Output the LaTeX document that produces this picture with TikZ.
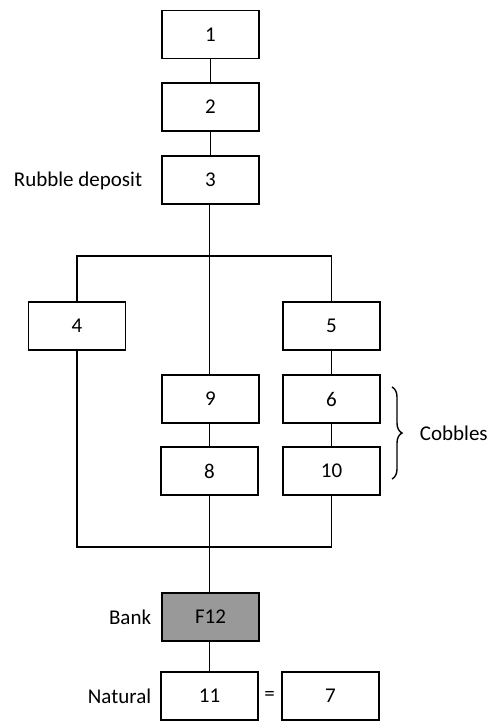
\documentclass[tikz,border=0pt]{standalone}
\usepackage{fontspec}
\setmainfont{Carlito}
\usetikzlibrary{decorations.pathreplacing}
\begin{document}
\begin{tikzpicture}[x=1pt,y=-1pt,line width=1.8pt,
  box/.style={draw=black,minimum width=97pt,minimum height=48pt,inner sep=0pt,font=\fontsize{21}{25}\selectfont,fill=white},
  lab/.style={inner sep=0pt,font=\fontsize{21}{25}\selectfont},
  conn/.style={draw=black,line width=1.8pt}]
\useasboundingbox (0,0) rectangle (491,722);
\node[box] (b1) at (210.5,34.5) {1};
\node[box] (b2) at (210.5,107) {2};
\node[box] (b3) at (210.5,180) {3};
\node[box] (b4) at (77,326) {4};
\node[box] (b5) at (331.5,326) {5};
\node[box] (b9) at (210.5,399) {9};
\node[box] (b6) at (331.5,399) {6};
\node[box] (b8) at (209.5,471) {8};
\node[box] (b10) at (331.5,471) {10};
\node[box,fill={rgb,255:red,153;green,153;blue,153}] (b12) at (210.5,617) {F12};
\node[box] (b11) at (209.5,696) {11};
\node[box] (b7) at (330.5,696) {7};
\node[lab,anchor=east] (lrub) at (143,181) {Rubble deposit};
\node[lab,anchor=east] (lbank) at (152,617) {Bank};
\node[lab,anchor=east] (lnat) at (152,696) {Natural};
\node[lab] (eq) at (269.5,696) {=};
\node[lab,anchor=west] (lcob) at (419,433) {Cobbles};
\coordinate (top) at (209.5,256);
\coordinate (bot) at (209.5,547);
\draw[conn] (b1) -- (b2);
\draw[conn] (b2) -- (b3);
\draw[conn] (b3.south -| top) -- (b9.north -| top);
\draw[conn] (b4.north) |- (top) -| (b5.north);
\draw[conn] (b5) -- (b6);
\draw[conn] (b9.south -| top) -- (b8.north -| top);
\draw[conn] (b6) -- (b10);
\draw[conn] (b4.south) |- (bot) -| (b10.south);
\draw[conn] (b8.south -| top) -- (b12.north -| top);
\draw[conn] (b12.south -| top) -- (b11.north -| top);
\draw[line width=1.4pt,decorate,decoration={brace,amplitude=10pt,aspect=0.5}] (392,387) -- (392,479);
\end{tikzpicture}
\end{document}
